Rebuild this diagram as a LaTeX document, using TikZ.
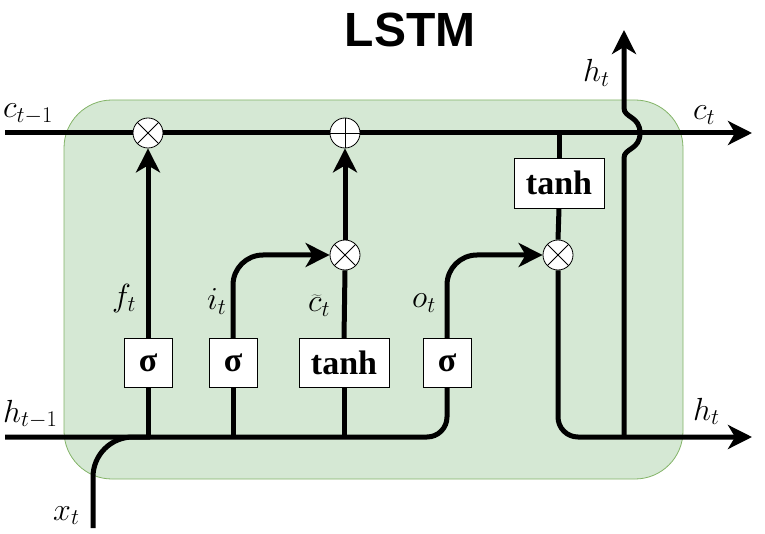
\RequirePackage{fix-cm}
\documentclass[tikz,border=0pt]{standalone}
\usepackage{fontspec}
\setmainfont{Liberation Serif}
\newfontfamily\titlefont{Liberation Sans}
\usetikzlibrary{arrows.meta}
\definecolor{boxfill}{HTML}{D5E8D4}
\definecolor{boxline}{HTML}{82B366}
\begin{document}
\begin{tikzpicture}[x=1pt,y=-1pt,
  wire/.style={line width=5pt},
  arr/.style={wire,-{Stealth[length=24pt,width=24pt,inset=7pt]}},
  gate/.style={draw,line width=0.8pt,fill=white,minimum width=48pt,minimum height=49pt,inner sep=0pt,font=\fontsize{34}{34}\selectfont\bfseries},
  op/.style={circle,draw,line width=0.8pt,fill=white,minimum size=30pt,inner sep=0pt},
  mult/.style={op,path picture={\draw[line width=0.8pt] (path picture bounding box.north west) -- (path picture bounding box.south east) (path picture bounding box.north east) -- (path picture bounding box.south west);}},
  plus/.style={op,path picture={\draw[line width=0.8pt] (path picture bounding box.north) -- (path picture bounding box.south) (path picture bounding box.east) -- (path picture bounding box.west);}},
  lbl/.style={anchor=base west,inner sep=0pt,font=\fontsize{32}{32}\selectfont}]
\useasboundingbox (0,0) rectangle (765,534);
% cell background
\draw[boxline,fill=boxfill,line width=0.8pt,rounded corners=48pt] (64,100) rectangle (683,479);
% title
\node[font=\titlefont\bfseries\fontsize{48}{48}\selectfont] (title) at (410,30) {LSTM};
% operators and gates
\node[mult] (fx) at (148,133) {};
\node[plus] (add) at (345,133) {};
\node[mult] (ix) at (345,255) {};
\node[mult] (ox) at (558,255) {};
\node[gate] (fs) at (148,363) {σ};
\node[gate] (is) at (233,363) {σ};
\node[gate,minimum width=90pt] (ct) at (344,363) {tanh};
\node[gate] (os) at (447,363) {σ};
\node[gate,minimum width=90pt,minimum height=50pt] (th) at (559,183) {tanh};
% coordinates
\coordinate (cin) at (5,133);
\coordinate (cout) at (752,133);
\coordinate (tap) at (559,133);
\coordinate (hin) at (5,437);
\coordinate (hout) at (752,437);
\coordinate (xin) at (93,528);
\coordinate (xc) at (93,437);
\coordinate (xj) at (150,437);
\coordinate (fj) at (148,437);
\coordinate (ij) at (233,437);
\coordinate (cj) at (344,437);
\coordinate (oc) at (447,437);
\coordinate (ic) at (233,255);
\coordinate (occ) at (447,255);
\coordinate (hc) at (558,437);
\coordinate (hj) at (624,437);
\coordinate (htop) at (624,30);
% cell state line
\draw[wire] (cin) -- (fx.west);
\draw[wire] (fx.east) -- (add.west);
\draw[arr] (add.east) -- (cout);
\draw[wire] (tap) -- (th.north);
% hidden line
\draw[wire,rounded corners=20pt] (hin) -- (oc) -- (os.south);
\draw[wire,rounded corners=40pt] (xin) -- (xc) -- (xj);
% forget gate
\draw[wire] (fj) -- (fs.south);
\draw[arr] (fs.north) -- (fx.south);
% input gate
\draw[wire] (ij) -- (is.south);
\draw[arr,rounded corners=30pt] (is.north) -- (ic) -- (ix.west);
% candidate
\draw[wire] (cj) -- (ct.south);
\draw[wire] (ct.north) -- (ix.south);
\draw[arr] (ix.north) -- (add.south);
% output gate
\draw[arr,rounded corners=30pt] (os.north) -- (occ) -- (ox.west);
\draw[wire] (th.south) -- (ox.north);
\draw[arr,rounded corners=20pt] (ox.south) -- (hc) -- (hout);
% h_t upward with jump
\draw[arr] (hj) -- (624,158) .. controls (624,148) and (640,150) .. (640,133) .. controls (640,116) and (624,118) .. (624,108) -- (htop);
% labels
\node[lbl] (lc0) at (3,118) {$c_{t-1}$};
\node[lbl] (lh0) at (3,422) {$h_{t-1}$};
\node[lbl] (lx) at (53,520) {$x_t$};
\node[lbl] (lf) at (112,307) {$f_t$};
\node[lbl] (li) at (207,310) {$i_t$};
\node[lbl] (lct) at (308,312) {$\widetilde{c}_t$};
\node[lbl] (lo) at (412,308) {$o_t$};
\node[lbl] (lht) at (583,82) {$h_t$};
\node[lbl] (lc1) at (693,120) {$c_t$};
\node[lbl] (lh1) at (693,420) {$h_t$};
\end{tikzpicture}
\end{document}
